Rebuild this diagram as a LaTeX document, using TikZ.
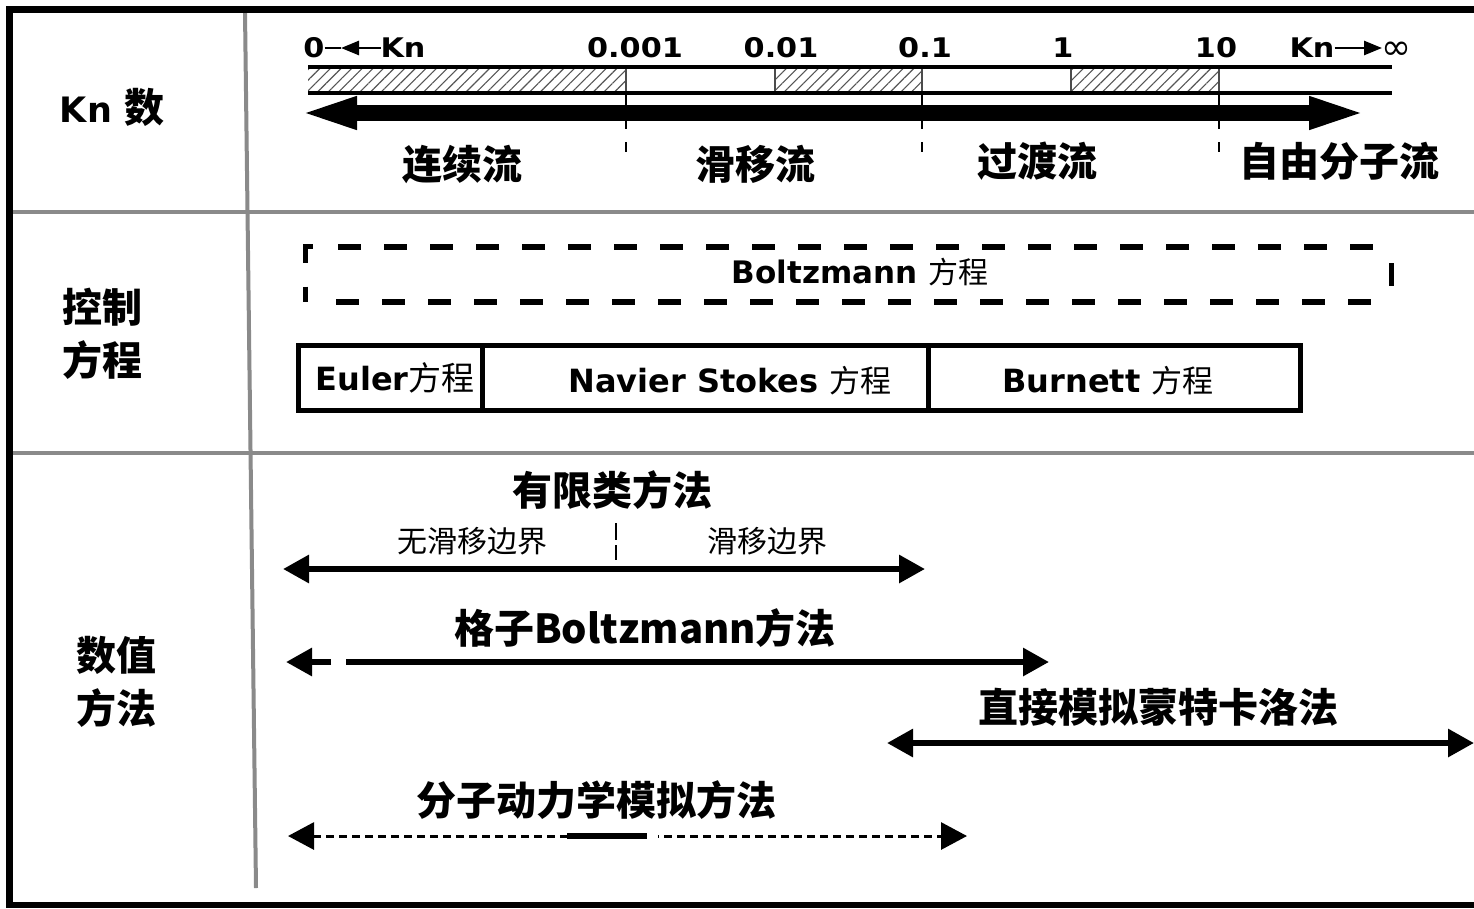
\documentclass[tikz,border=0pt]{standalone}
\usepackage{fontspec}
\setmainfont{DejaVu Sans}
\newfontfamily\cjk{Noto Sans CJK SC}
\newfontfamily\lat{DejaVu Sans}
\newfontfamily\latw[FakeStretch=1.12]{DejaVu Sans}
\usetikzlibrary{arrows.meta,patterns.meta}
\definecolor{gridgray}{HTML}{8A8A8A}
\definecolor{hatchgray}{HTML}{555555}
\tikzset{
  gridline/.style={draw=gridgray,line width=4pt},
  frameline/.style={draw=black,line width=6.5pt},
  txt/.style={inner sep=0pt,outer sep=0pt,anchor=center},
  headcn/.style={txt,font=\cjk\bfseries\fontsize{40}{53}\selectfont,align=center},
  subcn/.style={txt,font=\cjk\fontsize{30}{32}\selectfont},
  numlbl/.style={txt,font=\latw\bfseries\fontsize{27}{28}\selectfont},
  scaleline/.style={draw=black,line width=3.5pt},
  thintick/.style={draw=black!70,line width=1.3pt},
  hatchfill/.style={pattern={Lines[angle=45,distance=7.5pt,line width=1.1pt]},pattern color=hatchgray},
  bigarrow/.style={line width=16pt,{Triangle[length=62pt,width=28pt]}-{Triangle[length=62pt,width=28pt]}},
  dbl/.style={line width=6pt,{Triangle[length=26pt,width=27pt]}-{Triangle[length=26pt,width=27pt]}},
  onehead/.style={line width=6pt,-{Triangle[length=26pt,width=27pt]}},
  mddash/.style={line width=3pt,dash pattern=on 8pt off 5pt,{Triangle[length=26pt,width=27pt]}-{Triangle[length=26pt,width=27pt]}},
  tickdash/.style={draw=black,line width=2.5pt},
  eqbox/.style={draw=black,line width=5pt,inner sep=0pt,minimum height=65pt},
  bdash/.style={draw=black,line width=6pt,dash pattern=on 23pt off 23pt},
  kline/.style={draw=black,line width=2.6pt},
  khead/.style={line width=2.6pt,-{Triangle[length=18pt,width=14pt]}}
}
\begin{document}
\begin{tikzpicture}[x=1pt,y=-1pt]
\useasboundingbox (0,0) rectangle (1474,908);
\fill[white] (0,0) rectangle (1474,908);

% ---------- table grid ----------
\draw[gridline] (245,12) -- (256,888);
\draw[gridline] (13,212) -- (1474,212);
\draw[gridline] (13,453) -- (1474,453);
\draw[frameline] (1474,9.5) -- (9.5,9.5) -- (9.5,905) -- (1474,905);

% ---------- row labels ----------
\node[txt] (knlbl) at (112,107) {{\lat\bfseries\fontsize{35}{38}\selectfont Kn~}{\cjk\bfseries\fontsize{40}{42}\selectfont 数}};
\node[headcn] (ctrl) at (102,334) {控制\\方程};
\node[headcn] (num) at (116,682) {数值\\方法};

% ---------- Kn scale ----------
\fill[hatchfill] (308,68) rectangle (626,92);
\fill[hatchfill] (775,68) rectangle (922,92);
\fill[hatchfill] (1071,68) rectangle (1219,92);
\foreach \xx in {626,775,922,1071,1219} \draw[thintick] (\xx,67) -- (\xx,93);
\draw[scaleline] (308,67) -- (1392,67);
\draw[scaleline] (308,93) -- (1392,93);
% dashed separators
\foreach \xx in {626,922,1219} {
  \draw[tickdash] (\xx,93) -- (\xx,129);
  \draw[tickdash] (\xx,142) -- (\xx,152);
}
\coordinate (bigL) at (295,113);
\coordinate (bigR) at (1371,113);
\draw[bigarrow] (bigL) -- (bigR);

\node[numlbl] (zero) at (314,48) {0};
\node[numlbl] (knL) at (403,48) {Kn};
\coordinate (kmidL) at (341,48);
\draw[kline] (zero.east) -- (kmidL);
\draw[khead] (knL.west) -- (kmidL);
\node[numlbl] (t1) at (635,48) {0.001};
\node[numlbl] (t2) at (781,48) {0.01};
\node[numlbl] (t3) at (925,48) {0.1};
\node[numlbl] (t4) at (1063,48) {1};
\node[numlbl] (t5) at (1216,48) {10};
\node[numlbl] (knR) at (1312,48) {Kn};
\node[txt,font=\lat\fontsize{36}{38}\selectfont] (inf) at (1396,51) {∞};
\coordinate (kend) at (1382,48);
\draw[khead] (knR.east) -- (kend);

\node[headcn] (f1) at (462,164) {连续流};
\node[headcn] (f2) at (755,164) {滑移流};
\node[headcn] (f3) at (1037,161) {过渡流};
\node[headcn] (f4) at (1339,161) {自由分子流};

% ---------- governing equations ----------
\node[txt,minimum width=1086pt,minimum height=55pt] (boltz) at (848,274) {};
\draw[bdash,dash phase=-5pt] ([xshift=28pt]boltz.north west) -- (boltz.north east);
\draw[bdash,dash phase=-5pt] ([xshift=26pt]boltz.south west) -- (boltz.south east);
\draw[draw=black,line width=5pt] ([yshift=-16pt]boltz.north west) -- (boltz.north west) -- ([xshift=8pt]boltz.north west);
\draw[draw=black,line width=5pt] ([yshift=15pt]boltz.south west) -- (boltz.south west);
\draw[draw=black,line width=5pt] ([yshift=11pt]boltz.east) -- ([yshift=-12pt]boltz.east);
\node[txt] (boltztxt) at (860,272) {{\lat\bfseries\fontsize{31}{34}\selectfont Boltzmann~}{\cjk\fontsize{30}{32}\selectfont 方程}};

\node[eqbox,minimum width=184pt] (euler) at (390,377.5) {};
\node[eqbox,minimum width=446pt] (ns) at (705,377.5) {};
\node[eqbox,minimum width=372pt] (burn) at (1114,377.5) {};
\node[txt] (eulertxt) at (395,378) {{\lat\bfseries\fontsize{32}{34}\selectfont Euler}{\cjk\fontsize{33}{34}\selectfont 方程}};
\node[txt] (nstxt) at (730,381) {{\lat\bfseries\fontsize{32}{34}\selectfont Navier Stokes~}{\cjk\fontsize{31}{32}\selectfont 方程}};
\node[txt] (burntxt) at (1108,381) {{\lat\bfseries\fontsize{32}{34}\selectfont Burnett~}{\cjk\fontsize{31}{32}\selectfont 方程}};

% ---------- numerical methods ----------
\node[headcn] (fdm) at (612,490) {有限类方法};
\node[subcn] (noslip) at (472,541) {无滑移边界};
\node[subcn] (slip) at (767,541) {滑移边界};
\draw[tickdash] (616,523) -- (616,540);
\draw[tickdash] (616,545) -- (616,560);
\coordinate (a1L) at (283,569);
\coordinate (a1R) at (925,569);
\draw[dbl] (a1L) -- (a1R);

\node[headcn] (lbm) at (645,628) {格子Boltzmann方法};
\coordinate (a2L) at (286,662);
\coordinate (a2Ls) at (331,662);
\coordinate (a2M) at (346,662);
\coordinate (a2R) at (1049,662);
\draw[onehead] (a2Ls) -- (a2L);
\draw[onehead] (a2M) -- (a2R);

\node[headcn] (dsmc) at (1158,707) {直接模拟蒙特卡洛法};
\coordinate (a3L) at (887,743);
\coordinate (a3R) at (1474,743);
\draw[dbl] (a3L) -- (a3R);

\node[headcn] (md) at (596,800) {分子动力学模拟方法};
\coordinate (a4L) at (288,836);
\coordinate (a4R) at (967,836);
\coordinate (a4a) at (567,836);
\coordinate (a4b) at (647,836);
\draw[mddash] (a4L) -- (a4R);
\draw[draw=white,line width=7pt] (649,836) -- (658,836);
\draw[draw=black,line width=6pt] (a4a) -- (a4b);
\end{tikzpicture}
\end{document}
